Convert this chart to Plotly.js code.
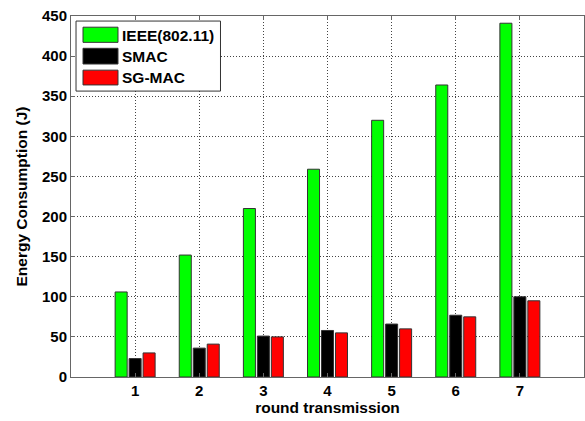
<!DOCTYPE html>
<html>
<head>
<meta charset="utf-8">
<script src="https://cdn.plot.ly/plotly-3.0.1.min.js"></script>
<style>html,body{margin:0;padding:0;background:#fff;}#chart{width:585px;height:421px;}</style>
</head>
<body>
<div id="chart"></div>
<script>
const rounds = [1, 2, 3, 4, 5, 6, 7];
const seriesNames = ["IEEE(802.11)", "SMAC", "SG-MAC"];
const ieee = [106, 152, 210, 259, 320, 364, 441];
const smac = [23, 36, 51, 58, 66, 77, 100];
const sgmac = [30, 41, 50, 55, 60, 75, 95];
const yTicks = [0, 50, 100, 150, 200, 250, 300, 350, 400, 450];

const colors = ["#00ff00", "#000000", "#ff0000"];
const vals = [ieee, smac, sgmac];
const traces = vals.map((v, i) => ({
  type: "bar",
  x: rounds,
  y: v,
  name: seriesNames[i],
  showlegend: false,
  marker: {color: colors[i], line: {color: "#333333", width: 1}}
}));

const fontFam = "'Liberation Sans', Arial, sans-serif";
const fnt = (s) => ({family: fontFam, size: s, color: "#000", weight: "bold"});

// Custom legend (large MATLAB-style swatches), drawn in paper coordinates
const legBox = {x0: 0.0098, x1: 0.2914, y0: 0.792, y1: 0.986};
const swX = [0.0234, 0.0916];
const swY = [[0.927, 0.969], [0.867, 0.9105], [0.809, 0.850]];
const txtY = [0.947, 0.889, 0.830];
const shapes = [{
  type: "rect", xref: "paper", yref: "paper",
  x0: legBox.x0, x1: legBox.x1, y0: legBox.y0, y1: legBox.y1,
  fillcolor: "#ffffff", line: {color: "#333333", width: 1}, layer: "above"
}];
const annotations = [];
seriesNames.forEach((n, i) => {
  shapes.push({
    type: "rect", xref: "paper", yref: "paper",
    x0: swX[0], x1: swX[1], y0: swY[i][0], y1: swY[i][1],
    fillcolor: colors[i], line: {color: "#333333", width: 1}, layer: "above"
  });
  annotations.push({
    xref: "paper", yref: "paper", x: 0.0955, y: txtY[i],
    xanchor: "left", yanchor: "middle", showarrow: false,
    text: n, font: fnt(15.5)
  });
});

const layout = {
  width: 585, height: 421,
  margin: {l: 71, r: 1, t: 16, b: 44},
  paper_bgcolor: "#ffffff",
  plot_bgcolor: "#ffffff",
  barmode: "group",
  bargap: 0.346,
  bargroupgap: 0.14,
  font: fnt(15),
  showlegend: false,
  shapes: shapes,
  annotations: annotations,
  xaxis: {
    range: [0, 8],
    tickvals: rounds,
    ticktext: rounds.map(String),
    showgrid: true, gridcolor: "#444444", griddash: "1px,2px", gridwidth: 1,
    showline: true, linecolor: "#666666", linewidth: 1, mirror: "ticks",
    ticks: "inside", ticklen: 4, tickcolor: "#666666",
    zeroline: false,
    tickfont: fnt(15),
    title: {text: "round transmission", font: fnt(15.5), standoff: 4}
  },
  yaxis: {
    range: [0, 450],
    tickvals: yTicks,
    showgrid: true, gridcolor: "#444444", griddash: "1px,2px", gridwidth: 1,
    showline: true, linecolor: "#666666", linewidth: 1, mirror: "ticks",
    ticks: "inside", ticklen: 4, tickcolor: "#666666",
    zeroline: false,
    tickfont: fnt(15),
    title: {text: "Energy Consumption (J)", font: fnt(15.5), standoff: 10}
  }
};

Plotly.newPlot("chart", traces, layout, {displayModeBar: false, staticPlot: true});
</script>
</body>
</html>
